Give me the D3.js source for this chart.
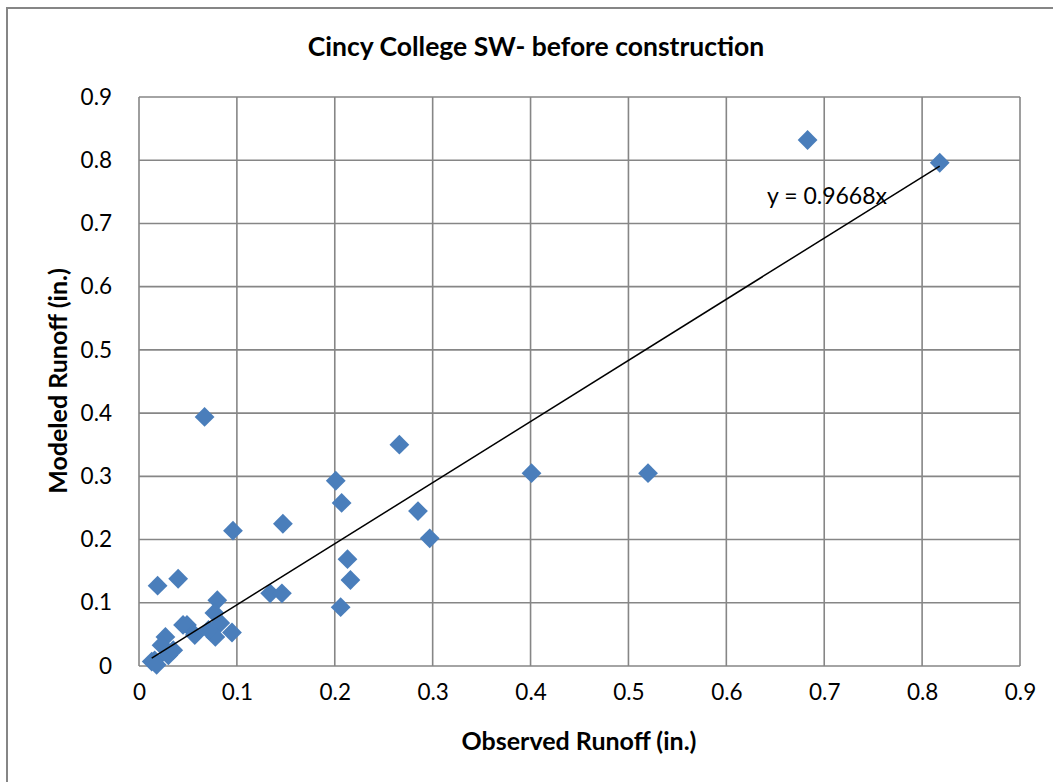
<!DOCTYPE html>
<html>
<head>
<meta charset="utf-8">
<script src="https://cdn.jsdelivr.net/npm/d3@7"></script>
<style>
  body { margin: 0; background: #fff; }
  svg { font-family: Lato, "Open Sans", sans-serif; }
</style>
</head>
<body>
<svg id="chart" width="1053" height="782"></svg>
<script>
// observed vs modeled runoff (in.)
const observed = [0.683, 0.818, 0.067, 0.266, 0.201, 0.207, 0.401, 0.520, 0.285, 0.297,
  0.147, 0.096, 0.213, 0.216, 0.206, 0.134, 0.146, 0.040, 0.019, 0.080,
  0.077, 0.049, 0.057, 0.083, 0.095, 0.078, 0.071, 0.027, 0.023, 0.030,
  0.016, 0.013, 0.018, 0.035, 0.045];
const modeled = [0.832, 0.796, 0.394, 0.350, 0.293, 0.258, 0.305, 0.305, 0.245, 0.202,
  0.225, 0.214, 0.169, 0.136, 0.093, 0.115, 0.115, 0.138, 0.127, 0.104,
  0.084, 0.065, 0.049, 0.068, 0.053, 0.046, 0.057, 0.046, 0.033, 0.017,
  0.009, 0.007, 0.002, 0.025, 0.065];
const slope = 0.9668;
const ticks = [0, 0.1, 0.2, 0.3, 0.4, 0.5, 0.6, 0.7, 0.8, 0.9];

const svg = d3.select("#chart");
const m = {left: 139, right: 1020, top: 97, bottom: 666};

const x = d3.scaleLinear().domain([0, 0.9]).range([m.left, m.right]);
const y = d3.scaleLinear().domain([0, 0.9]).range([m.bottom, m.top]);

// outer chart border
svg.append("rect")
  .attr("x", 7).attr("y", 8).attr("width", 1060).attr("height", 800)
  .attr("fill", "none").attr("stroke", "#868686").attr("stroke-width", 2);

// grid
svg.append("g").selectAll("line").data(ticks).join("line")
  .attr("x1", d => x(d)).attr("x2", d => x(d))
  .attr("y1", m.top).attr("y2", m.bottom)
  .attr("stroke", "#868686").attr("stroke-width", 1.6);
svg.append("g").selectAll("line").data(ticks).join("line")
  .attr("y1", d => y(d)).attr("y2", d => y(d))
  .attr("x1", m.left).attr("x2", m.right)
  .attr("stroke", "#868686").attr("stroke-width", 1.6);

// axes (labels only, Excel style)
const xAxis = svg.append("g")
  .attr("transform", `translate(0,${m.bottom + 8})`)
  .call(d3.axisBottom(x).tickValues(ticks).tickSize(0).tickPadding(10).tickFormat(d => d3.format("")(d)));
const yAxis = svg.append("g")
  .attr("transform", `translate(${m.left - 20},0)`)
  .call(d3.axisLeft(y).tickValues(ticks).tickSize(0).tickPadding(7).tickFormat(d => d3.format("")(d)));
[xAxis, yAxis].forEach(g => {
  g.select(".domain").remove();
  g.selectAll("text").attr("font-size", 22.5).attr("font-family", "Lato, sans-serif").attr("fill", "#000");
});

// points
const diamond = d3.symbol().type(d3.symbolDiamond2).size(250);
svg.append("g").selectAll("path").data(observed).join("path")
  .attr("d", diamond)
  .attr("transform", (d, i) => `translate(${x(d)},${y(modeled[i])})`)
  .attr("fill", "#4a7ebb");

// linear trendline through origin
const xMin = d3.min(observed), xMax = d3.max(observed);
svg.append("line")
  .attr("x1", x(xMin)).attr("y1", y(slope * xMin))
  .attr("x2", x(xMax)).attr("y2", y(slope * xMax))
  .attr("stroke", "#000").attr("stroke-width", 1.5);

svg.append("text")
  .attr("x", 767).attr("y", 204)
  .attr("font-size", 23)
  .text(`y = ${slope}x`);

// titles
svg.append("text")
  .attr("x", 536).attr("y", 56).attr("text-anchor", "middle")
  .attr("font-size", 26.5).attr("font-weight", "bold")
  .text("Cincy College SW- before construction");
svg.append("text")
  .attr("x", 579).attr("y", 750).attr("text-anchor", "middle")
  .attr("font-size", 25).attr("font-weight", "bold")
  .text("Observed Runoff (in.)");
svg.append("text")
  .attr("transform", "translate(67,381) rotate(-90)")
  .attr("text-anchor", "middle")
  .attr("font-size", 25).attr("font-weight", "bold")
  .text("Modeled Runoff (in.)");
</script>
</body>
</html>
